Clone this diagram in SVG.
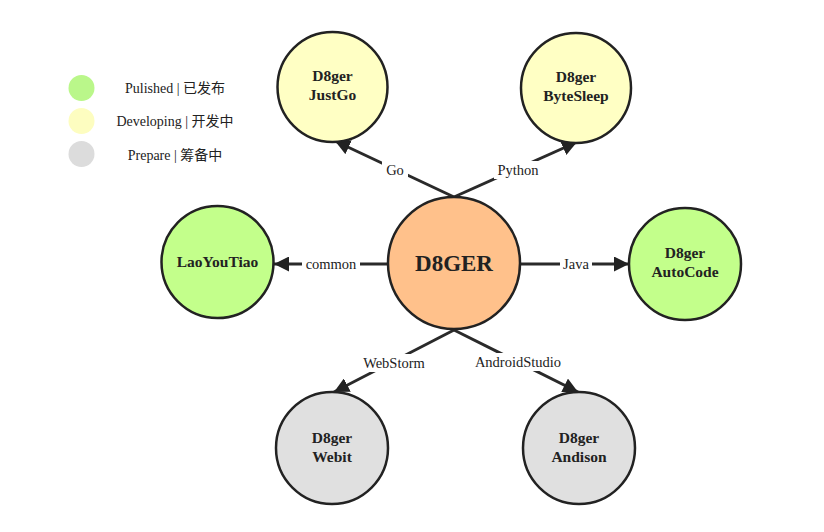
<svg xmlns="http://www.w3.org/2000/svg" width="824" height="532" viewBox="0 0 824 532">
<defs>
<marker id="arr" viewBox="0 0 10 10" refX="10" refY="5" markerWidth="5" markerHeight="5" orient="auto" markerUnits="strokeWidth">
<path d="M0,0 L10,5 L0,10 z" fill="#222"/>
</marker>
<style>
.node{stroke:#222;stroke-width:2.5}
.green{fill:#c3ff8b}
.yellow{fill:#ffffc4}
.gray{fill:#e0e0e0}
.orange{fill:#ffc18b}
.edge{stroke:#2a2a2a;stroke-width:3;fill:none;marker-end:url(#arr)}
.nt{font-family:"Liberation Serif","Noto Sans CJK SC",serif;font-weight:bold;font-size:15.5px;fill:#222;text-anchor:middle}
.el{font-family:"Liberation Serif","Noto Sans CJK SC",serif;font-size:14.5px;fill:#222;text-anchor:middle;dominant-baseline:central}
.lbg{fill:#fff}
.lg{font-family:"Liberation Serif","Noto Sans CJK SC",serif;font-size:14px;fill:#222;text-anchor:middle;dominant-baseline:central}
</style>
</defs>
<rect width="824" height="532" fill="#fff"/>
<g id="legend">
<circle cx="81.5" cy="88" r="13" fill="#baf78a"/>
<circle cx="81.5" cy="121" r="13" fill="#fdfdc0"/>
<circle cx="81.5" cy="154" r="13" fill="#dcdcdc"/>
<text class="lg" x="175" y="88">Pulished | 已发布</text>
<text class="lg" x="175" y="121">Developing | 开发中</text>
<text class="lg" x="175" y="155">Prepare | 筹备中</text>
</g>
<g id="connectors">
<line class="edge" x1="454" y1="197" x2="335" y2="141"/>
<line class="edge" x1="454" y1="197" x2="577" y2="142"/>
<line class="edge" x1="387" y1="264" x2="274" y2="264"/>
<line class="edge" x1="521" y1="264" x2="629" y2="264"/>
<line class="edge" x1="454" y1="330" x2="334" y2="392"/>
<line class="edge" x1="454" y1="330" x2="578" y2="392"/>
<rect class="lbg" x="382" y="161" width="26" height="18"/>
<text class="el" x="395" y="170">Go</text>
<rect class="lbg" x="494" y="161" width="48" height="18"/>
<text class="el" x="518" y="170">Python</text>
<rect class="lbg" x="302" y="255" width="58" height="18"/>
<text class="el" x="331" y="264">common</text>
<rect class="lbg" x="560" y="255" width="32" height="18"/>
<text class="el" x="576" y="264">Java</text>
<rect class="lbg" x="358" y="354" width="72" height="18"/>
<text class="el" x="394" y="363">WebStorm</text>
<rect class="lbg" x="468" y="353" width="100" height="18"/>
<text class="el" x="518" y="362">AndroidStudio</text>
</g>
<g id="center">
<circle class="node orange" cx="454" cy="263" r="66"/>
<text class="nt" x="454" y="271" style="font-size:23px">D8GER</text>
</g>
<g id="justgo">
<circle class="node yellow" cx="332.5" cy="87" r="55"/>
<text class="nt" x="332.5" y="81">D8ger</text>
<text class="nt" x="332.5" y="100">JustGo</text>
</g>
<g id="bytesleep">
<circle class="node yellow" cx="576" cy="88" r="55"/>
<text class="nt" x="576" y="82">D8ger</text>
<text class="nt" x="576" y="101">ByteSleep</text>
</g>
<g id="laoyoutiao">
<circle class="node green" cx="217.5" cy="262" r="56"/>
<text class="nt" x="217.5" y="267">LaoYouTiao</text>
</g>
<g id="autocode">
<circle class="node green" cx="685" cy="264" r="56"/>
<text class="nt" x="685" y="258">D8ger</text>
<text class="nt" x="685" y="277">AutoCode</text>
</g>
<g id="webit">
<circle class="node gray" cx="332" cy="448" r="56"/>
<text class="nt" x="332" y="443">D8ger</text>
<text class="nt" x="332" y="462">Webit</text>
</g>
<g id="andison">
<circle class="node gray" cx="579" cy="448" r="56"/>
<text class="nt" x="579" y="443">D8ger</text>
<text class="nt" x="579" y="462">Andison</text>
</g>
</svg>
